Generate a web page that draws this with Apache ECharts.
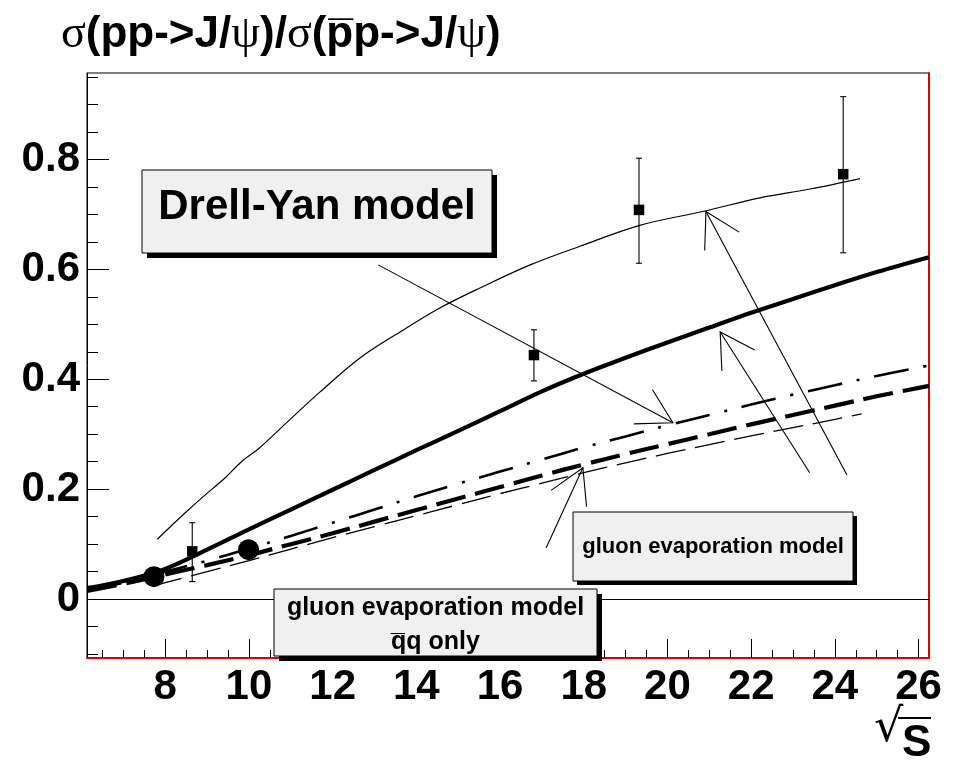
<!DOCTYPE html>
<html>
<head>
<meta charset="utf-8">
<script src="https://cdn.jsdelivr.net/npm/echarts@6/dist/echarts.min.js"></script>
<style>
  html, body { margin: 0; padding: 0; background: #fff; }
  #chart { width: 962px; height: 766px; }
</style>
</head>
<body>
<div id="chart"></div>
<script>
// Axis ranges and tick labels
const X_MIN = 6.13, X_MAX = 26.25;
const Y_MIN = -0.107, Y_MAX = 0.957;
const xMajorTicks = [8, 10, 12, 14, 16, 18, 20, 22, 24, 26];
const yMajorTicks = [0, 0.2, 0.4, 0.6, 0.8];

// Thin solid curve
const thinSolidX = [7.81, 8.42, 8.90, 9.42, 9.82, 10.25, 10.97, 11.70, 12.66, 13.61, 14.57, 15.52, 16.72, 17.91, 19.34, 20.90, 22.21, 23.41, 24.60];
const thinSolidY = [0.109, 0.153, 0.186, 0.220, 0.250, 0.275, 0.326, 0.377, 0.439, 0.486, 0.530, 0.566, 0.608, 0.642, 0.680, 0.706, 0.730, 0.746, 0.765];

// Thick solid curve
const thickSolidX = [6.13, 7, 8, 9, 10, 11, 12, 13, 14, 15, 16, 17, 18, 19, 20, 21, 22, 23, 24, 25, 26.25];
const thickSolidY = [0.020, 0.033, 0.055, 0.090, 0.127, 0.163, 0.199, 0.235, 0.271, 0.306, 0.342, 0.378, 0.410, 0.439, 0.467, 0.494, 0.521, 0.546, 0.571, 0.595, 0.622];

// Thick dashed curve
const thickDashX = [6.13, 7, 8, 9, 10, 11, 12, 13, 14, 15, 16, 17, 18, 19, 20, 21, 22, 23, 24, 25, 26.25];
const thickDashY = [0.015, 0.028, 0.045, 0.062, 0.080, 0.100, 0.120, 0.141, 0.162, 0.183, 0.204, 0.225, 0.245, 0.264, 0.282, 0.300, 0.318, 0.335, 0.352, 0.369, 0.388];

// Dash-dotted curve
const dashDotX = [6.13, 7, 8, 9, 10, 11, 12, 13, 14, 15, 16, 17, 18, 19, 20, 21, 22, 23, 24, 25, 26.25];
const dashDotY = [0.017, 0.030, 0.050, 0.070, 0.092, 0.115, 0.139, 0.163, 0.187, 0.210, 0.232, 0.254, 0.276, 0.296, 0.316, 0.335, 0.354, 0.372, 0.389, 0.406, 0.425];

// Thin dashed curve
const thinDashX = [7.7, 8, 9, 10, 11, 12, 13, 14, 15, 16, 17, 18, 19, 20, 21, 22, 23, 24, 24.64];
const thinDashY = [0.023, 0.030, 0.050, 0.070, 0.091, 0.112, 0.132, 0.152, 0.172, 0.192, 0.211, 0.230, 0.248, 0.265, 0.281, 0.297, 0.312, 0.327, 0.337];

// Measured ratios with errors (squares)
const dataX = [8.645, 16.81, 19.32, 24.20];
const dataY = [0.087, 0.444, 0.708, 0.773];
const dataLow = [0.032, 0.397, 0.611, 0.630];
const dataHigh = [0.139, 0.490, 0.802, 0.914];

// Ratios shown as large dots
const dotX = [7.73, 9.99];
const dotY = [0.041, 0.090];

// Annotation arrows: tail x, tail y, tip x, tip y
const arrowTailX = [13.09, 24.29, 23.40, 17.10];
const arrowTailY = [0.608, 0.226, 0.230, 0.093];
const arrowTipX = [20.13, 20.92, 21.26, 17.98];
const arrowTipY = [0.321, 0.705, 0.486, 0.239];

const zip = (xs, ys) => xs.map((x, i) => [x, ys[i]]);

const xMinorTicks = [];
for (let v = 6.5; v <= 26.01; v += 0.5) if (Math.abs(v / 2 - Math.round(v / 2)) > 1e-6) xMinorTicks.push(+v.toFixed(2));
const yMinorTicks = [];
for (let k = -2; k <= 19; k++) if (k % 4 !== 0) yMinorTicks.push(+(k * 0.05).toFixed(2));

const SANS = 'Liberation Sans, Arial, Helvetica, sans-serif';
const SERIF = 'Liberation Serif, Times New Roman, serif';

const chart = echarts.init(document.getElementById('chart'), null, { renderer: 'canvas' });

function curve(name, xs, ys, width, type) {
  return {
    name, type: 'line', data: zip(xs, ys), showSymbol: false, smooth: 0.35,
    lineStyle: { color: '#000', width, type: type || 'solid' }, z: 3, silent: true
  };
}

// Shadowed label box; dy nudges the text vertically inside the box
function textBox(x, y, w, h, shadow, text, fontSize, lineHeight, dy) {
  return {
    type: 'group', z: 100, zlevel: 1,
    children: [
      { type: 'rect', z: 100, zlevel: 1, shape: { x: x + shadow, y: y + shadow, width: w, height: h }, style: { fill: '#000' } },
      { type: 'rect', z: 101, zlevel: 1, shape: { x, y, width: w, height: h }, style: { fill: '#f0f0f0', stroke: '#000', lineWidth: 1 } },
      { type: 'text', z: 102, zlevel: 1, x: x + w / 2, y: y + h / 2 + (dy || 0), style: {
          text, fill: '#000', font: 'bold ' + fontSize + 'px ' + SANS,
          align: 'center', verticalAlign: 'middle', lineHeight: lineHeight || fontSize
        } }
    ]
  };
}

const option = {
  animation: false,
  backgroundColor: '#fff',
  title: {
    text: '{g|σ}{b|(pp->J/}{g|ψ}{b|)/}{g|σ}{b|(p\u0305p->J/}{g|ψ}{b|)}',
    left: 56, top: 7,
    textStyle: {
      rich: {
        g: { fontFamily: SERIF, fontSize: 46, fontWeight: 'normal', color: '#000' },
        b: { fontFamily: SANS, fontSize: 44, fontWeight: 'bold', color: '#000' }
      }
    }
  },
  grid: { left: 87, top: 73, right: 33, bottom: 108, show: true, borderColor: '#000', borderWidth: 1, backgroundColor: '#fff' },
  xAxis: [
    {
      type: 'value', min: X_MIN, max: X_MAX, position: 'bottom',
      axisLine: { show: true, onZero: false, lineStyle: { color: '#e00000', width: 2 } },
      axisTick: { show: true, inside: true, length: 19, customValues: xMajorTicks, lineStyle: { color: '#000', width: 1 } },
      axisLabel: { customValues: xMajorTicks, color: '#000', fontFamily: SANS, fontWeight: 'bold', fontSize: 42, margin: 8 },
      splitLine: { show: false }
    },
    {
      type: 'value', min: X_MIN, max: X_MAX, position: 'bottom',
      axisLine: { show: false, onZero: false },
      axisTick: { show: true, inside: true, length: 8, customValues: xMinorTicks, lineStyle: { color: '#000', width: 1 } },
      axisLabel: { show: false }, splitLine: { show: false }
    }
  ],
  yAxis: [
    {
      type: 'value', min: Y_MIN, max: Y_MAX, position: 'left',
      axisLine: { show: true, onZero: false, lineStyle: { color: '#000', width: 1 } },
      axisTick: { show: true, inside: true, length: 22, customValues: yMajorTicks, lineStyle: { color: '#000', width: 1 } },
      axisLabel: {
        customValues: yMajorTicks, color: '#000', fontFamily: SANS, fontWeight: 'bold', fontSize: 42, margin: 7,
        formatter: v => (Math.abs(v) < 1e-9 ? '0' : v.toFixed(1))
      },
      splitLine: { show: false }
    },
    {
      type: 'value', min: Y_MIN, max: Y_MAX, position: 'left',
      axisLine: { show: false, onZero: false },
      axisTick: { show: true, inside: true, length: 11, customValues: yMinorTicks, lineStyle: { color: '#000', width: 1 } },
      axisLabel: { show: false }, splitLine: { show: false }
    },
    {
      type: 'value', min: Y_MIN, max: Y_MAX, position: 'right',
      axisLine: { show: true, onZero: false, lineStyle: { color: '#e00000', width: 2 } },
      axisTick: { show: false }, axisLabel: { show: false }, splitLine: { show: false }
    }
  ],
  graphic: [
    textBox(142, 170, 350, 83, 5, 'Drell-Yan model', 42, 42, -4),
    textBox(573, 512, 280, 69, 4, 'gluon evaporation model', 22, 22, 0),
    textBox(274, 589, 323, 67, 5, 'gluon evaporation model\nq\u0305q only', 25, 34, 3),
    {
      type: 'text', left: 874, top: 706, z: 50,
      style: { text: '√', fill: '#000', font: '46px DejaVu Sans, sans-serif' }
    },
    {
      type: 'text', left: 902, top: 722, z: 50,
      style: { text: 'S', fill: '#000', font: 'bold 44px ' + SANS }
    },
    {
      type: 'line', z: 50, shape: { x1: 898, y1: 718, x2: 931, y2: 718 }, style: { stroke: '#000', lineWidth: 2 }
    }
  ],
  series: [
    {
      type: 'line', data: [], silent: true,
      markLine: {
        symbol: 'none', silent: true, label: { show: false },
        lineStyle: { color: '#000', width: 1, type: 'solid' },
        data: [{ yAxis: 0 }]
      }
    },
    curve('thin solid', thinSolidX, thinSolidY, 1.2),
    curve('thick solid', thickSolidX, thickSolidY, 4.2),
    curve('thick dashed', thickDashX, thickDashY, 4.2, [30, 10]),
    curve('dash dot', dashDotX, dashDotY, 2.6, [35, 15, 3, 15]),
    curve('thin dashed', thinDashX, thinDashY, 1.3, [30, 10]),
    {
      type: 'custom', name: 'arrows', silent: true, z: 4,
      data: arrowTailX.map((x, i) => [x, arrowTailY[i], arrowTipX[i], arrowTipY[i]]),
      renderItem: (params, api) => {
        const a = api.coord([api.value(0), api.value(1)]);
        const b = api.coord([api.value(2), api.value(3)]);
        const ang = Math.atan2(a[1] - b[1], a[0] - b[0]);
        const L = 39, da = 30 * Math.PI / 180;
        const h1 = [b[0] + L * Math.cos(ang + da), b[1] + L * Math.sin(ang + da)];
        const h2 = [b[0] + L * Math.cos(ang - da), b[1] + L * Math.sin(ang - da)];
        const st = { stroke: '#000', lineWidth: 1.1, fill: null };
        return {
          type: 'group', children: [
            { type: 'line', shape: { x1: a[0], y1: a[1], x2: b[0], y2: b[1] }, style: st },
            { type: 'polyline', shape: { points: [h1, b, h2] }, style: st }
          ]
        };
      }
    },
    {
      type: 'custom', name: 'data', silent: true, z: 6,
      data: dataX.map((x, i) => [x, dataY[i], dataLow[i], dataHigh[i]]),
      renderItem: (params, api) => {
        const p = api.coord([api.value(0), api.value(1)]);
        const lo = api.coord([api.value(0), api.value(2)]);
        const hi = api.coord([api.value(0), api.value(3)]);
        const st = { stroke: '#000', lineWidth: 1.1 };
        const s = 10.5, c = 3;
        return {
          type: 'group', children: [
            { type: 'line', shape: { x1: p[0], y1: lo[1], x2: p[0], y2: hi[1] }, style: st },
            { type: 'line', shape: { x1: p[0] - c, y1: lo[1], x2: p[0] + c, y2: lo[1] }, style: st },
            { type: 'line', shape: { x1: p[0] - c, y1: hi[1], x2: p[0] + c, y2: hi[1] }, style: st },
            { type: 'rect', shape: { x: p[0] - s / 2, y: p[1] - s / 2, width: s, height: s }, style: { fill: '#000' } }
          ]
        };
      }
    },
    {
      type: 'scatter', name: 'dots', data: zip(dotX, dotY), symbol: 'circle', symbolSize: 21,
      itemStyle: { color: '#000', opacity: 1 }, z: 7, silent: true
    }
  ]
};

chart.setOption(option);
</script>
</body>
</html>
